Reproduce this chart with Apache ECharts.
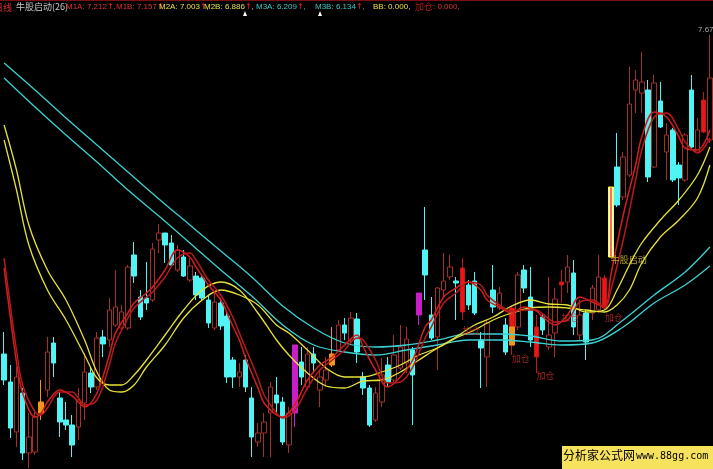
<!DOCTYPE html>
<html><head><meta charset="utf-8">
<script src="https://cdn.jsdelivr.net/npm/echarts/dist/echarts.min.js"></script>
<style>html,body{margin:0;padding:0;background:#000;}#c{width:713px;height:469px;}</style>
</head><body><div id="c"></div>
<script>
// ---- candle data (price) ----
const openP=[4.48,4.20,3.70,4.09,3.49,3.50,3.89,4.12,4.59,4.04,
3.82,3.77,3.75,3.99,4.29,4.15,4.65,4.62,4.77,4.74,
4.74,5.47,5.05,5.04,5.02,5.62,5.69,5.59,5.32,5.45,
5.22,5.26,5.24,5.02,4.74,4.99,4.86,4.42,4.25,4.42,
4.04,3.60,3.69,3.89,4.07,4.00,3.57,3.89,4.40,4.15,
4.48,4.12,4.22,4.37,4.52,4.77,4.62,4.83,4.25,4.14,
3.82,4.00,4.37,4.22,4.34,4.39,4.52,4.87,5.52,4.87,
4.65,5.12,5.25,5.21,4.90,5.17,5.21,4.62,4.45,5.12,
4.94,4.77,4.57,4.75,5.32,5.05,4.45,4.85,4.55,4.69,
5.17,5.20,5.29,4.67,4.89,4.89,4.92,4.94,5.45,6.35,
6.05,6.27,7.12,7.09,7.12,6.35,7.01,6.50,6.72,6.37,
6.22,7.12,6.50,6.70,6.62];
const closeP=[4.22,3.74,4.25,3.49,3.65,3.85,4.00,4.50,4.39,3.80,
3.77,3.57,4.02,4.30,4.15,4.64,4.58,4.92,4.95,4.90,
5.35,5.26,4.85,4.99,5.53,5.69,5.57,5.37,5.52,5.26,
5.36,5.07,5.04,4.79,5.00,4.76,4.25,4.25,4.30,4.15,
3.65,3.69,3.80,4.15,3.99,3.60,3.89,4.57,4.25,4.48,
4.39,4.25,4.32,4.48,4.77,4.69,4.84,4.50,4.14,3.77,
4.09,4.27,4.20,4.47,4.55,4.63,4.27,5.09,5.27,4.64,
5.14,5.21,5.35,5.19,5.34,4.97,4.89,4.54,4.79,4.95,
5.09,4.50,4.94,5.27,5.14,4.62,4.75,4.72,4.67,5.03,
5.20,5.35,4.75,4.87,4.60,5.14,5.25,5.24,6.15,5.97,
6.45,6.98,7.22,7.20,6.25,7.19,6.75,6.67,6.22,6.24,
6.67,6.55,6.72,7.02,7.24];
const lowP=[4.17,3.64,3.55,3.42,3.34,3.47,3.82,4.05,4.25,3.65,
3.72,3.45,3.62,3.82,4.09,4.12,4.45,4.55,4.75,4.72,
4.72,5.19,4.82,4.92,5.00,5.49,5.39,5.35,5.30,5.25,
5.20,5.02,5.02,4.74,4.72,4.72,4.19,4.14,4.15,4.10,
3.45,3.55,3.45,3.45,3.89,3.57,3.49,3.75,4.17,4.12,
4.29,3.95,4.15,4.35,4.50,4.62,4.59,4.39,4.07,3.75,
3.80,3.95,4.15,4.20,4.32,4.29,3.77,4.77,5.02,4.62,
4.32,5.05,5.22,4.82,4.82,4.92,4.87,4.14,4.15,4.89,
4.92,4.47,4.47,4.72,5.09,4.55,4.29,4.67,4.52,4.45,
4.99,5.09,4.67,4.62,4.42,4.82,4.89,4.92,5.45,5.95,
6.02,6.25,6.89,6.89,6.20,6.34,6.74,6.22,6.20,5.97,
6.20,6.54,6.49,6.69,6.59];
const highP=[4.70,4.37,4.35,4.14,3.89,3.92,4.22,4.65,4.65,4.10,
4.00,3.87,4.14,4.49,4.35,4.70,4.72,5.04,5.32,4.97,
5.37,5.60,5.12,5.40,5.59,5.78,5.69,5.67,5.57,5.52,
5.44,5.30,5.27,5.07,5.10,5.04,4.90,4.45,4.39,4.47,
4.15,3.79,3.89,4.20,4.25,4.05,3.95,4.57,4.55,4.55,
4.55,4.32,4.45,4.75,4.82,4.84,4.90,4.89,4.30,4.17,
4.15,4.44,4.45,4.67,4.77,4.75,4.55,5.09,5.95,5.05,
5.15,5.49,5.47,5.25,5.44,5.22,5.30,4.70,4.82,5.37,
5.15,4.84,4.97,5.30,5.37,5.35,4.87,4.89,5.25,5.14,
5.32,5.47,5.42,5.02,4.92,5.17,5.47,5.27,6.15,6.69,
6.50,7.35,7.32,7.50,7.22,7.27,7.20,6.79,6.74,6.40,
6.69,7.27,6.84,7.10,7.67];
// specially coloured candles
const specialIdx=[6,47,53,67,74,82,86,90,97,98,113];
const specialKind=['orange','magenta','orange','magenta','red','red','red','red','red','start','red'];
// orange lower part drawn over candle 82
const overlayIdx=[82], overlayOpen=[4.57], overlayClose=[4.75];

// ---- moving averages ----
const m1Idx=[0,2,3,5,6,7,9,11,12,13,15,17,18,20,21,23,24,26,28,30,31,33,35,37,38,39,41,42,44,45,47,49,51,53,55,57,58,60,62,64,66,68,69,71,73,75,77,78,80,82,84,86,87,89,91,93,95,97,98,100,102,103,105,107,109,110,112,114];
const m1a=[5.34,4.40,4.09,3.85,3.89,4.00,4.12,4.06,4.00,3.95,4.09,4.47,4.69,4.89,4.99,5.09,5.15,5.32,5.52,5.45,5.35,5.17,5.02,4.75,4.62,4.44,4.14,3.99,3.87,3.85,3.98,4.22,4.37,4.45,4.57,4.67,4.55,4.32,4.15,4.25,4.42,4.75,4.82,5.05,5.14,5.20,5.12,5.02,4.95,4.89,4.95,4.91,4.85,4.77,4.87,5.05,5.00,4.95,5.27,5.87,6.37,6.65,6.90,6.85,6.65,6.54,6.52,6.72];
const m1b=[5.44,4.52,4.17,3.90,3.87,3.94,4.10,4.10,4.04,3.97,4.02,4.37,4.59,4.84,4.94,5.05,5.10,5.25,5.44,5.49,5.42,5.22,5.07,4.84,4.69,4.54,4.24,4.07,3.89,3.84,3.92,4.14,4.32,4.42,4.52,4.64,4.62,4.42,4.19,4.20,4.35,4.64,4.75,4.99,5.09,5.20,5.17,5.07,4.97,4.91,4.92,4.92,4.88,4.80,4.82,5.00,5.02,4.95,5.12,5.62,6.22,6.52,6.85,6.89,6.72,6.60,6.49,6.64];
const m2Idx=[0,2,4,7,10,13,15,17,19,21,23,26,29,32,35,38,41,44,46,49,52,55,58,61,64,67,70,73,76,79,82,85,88,91,94,97,99,101,103,106,109,112,114];
const m2a=[6.62,6.12,5.57,5.12,4.82,4.47,4.24,4.17,4.17,4.27,4.42,4.67,4.92,5.12,5.20,5.12,4.89,4.62,4.47,4.29,4.16,4.14,4.21,4.22,4.30,4.42,4.54,4.65,4.77,4.85,4.96,5.02,4.98,4.97,4.90,4.92,5.12,5.37,5.59,5.82,6.02,6.27,6.55];
const m2b=[6.77,6.32,5.77,5.32,5.02,4.62,4.30,4.12,4.10,4.17,4.35,4.57,4.84,5.02,5.12,5.07,4.97,4.77,4.69,4.52,4.34,4.25,4.25,4.30,4.37,4.47,4.54,4.64,4.72,4.82,4.89,4.94,4.95,4.94,4.92,4.90,4.97,5.12,5.39,5.65,5.82,6.04,6.37];
const m3Idx=[0,5,10,15,20,25,30,35,40,45,50,55,60,65,70,75,80,85,90,95,100,105,110,114];
const m3a=[7.39,7.12,6.84,6.57,6.30,6.03,5.77,5.51,5.25,4.96,4.74,4.59,4.55,4.57,4.62,4.68,4.68,4.66,4.61,4.62,4.82,5.07,5.30,5.55];
const m3b=[7.24,6.95,6.67,6.40,6.12,5.86,5.59,5.32,5.06,4.77,4.57,4.50,4.47,4.52,4.57,4.62,4.62,4.60,4.57,4.59,4.75,4.99,5.17,5.36];

// ---- signal labels ----
const addIdx=[74,82,86,90,97], addLevel=[4.71,4.43,4.26,4.84,4.84];
const startIdx=[98], startLevel=[5.42];

// ---- header ----
const headerItems=[
 ['M1A','7.212','r',66],['M1B','7.157','r',116],['M2A','7.003','y',159],['M2B','6.886','y',204],
 ['M3A','6.209','c',256],['M3B','6.134','c',315]];

const cats=openP.map((_,i)=>String(i+1));
const UP='#a3302a', DOWN='#50f4f4';
const styles={
 orange:{color:'#f2971c',color0:'#f2971c',borderColor:'#f2971c',borderColor0:'#f2971c'},
 magenta:{color:'#c81ec8',color0:'#c81ec8',borderColor:'#c81ec8',borderColor0:'#c81ec8'},
 red:{color:'#f01414',color0:'#f01414',borderColor:'#c01818',borderColor0:'#c01818'},
 start:{color:{type:'linear',x:0,y:0,x2:1,y2:0,colorStops:[{offset:0,color:'#ffff30'},{offset:0.25,color:'#ffffff'},{offset:0.5,color:'#ff2020'},{offset:0.75,color:'#ffffff'},{offset:1,color:'#ffff30'}]},borderColor:'#ffff20',borderColor0:'#ffff20'}
};
const candleData=openP.map((o,i)=>{
  const v=[o,closeP[i],lowP[i],highP[i]];
  const k=specialIdx.indexOf(i);
  return k>=0?{value:v,itemStyle:styles[specialKind[k]]}:v;
});
const overlayData=openP.map((o,i)=>{
  const k=overlayIdx.indexOf(i);
  return k>=0?[overlayOpen[k],overlayClose[k],overlayOpen[k],overlayClose[k]]:'-';
});
function ma(name,idx,vals,color,w){
  return {name,type:'line',data:idx.map((d,j)=>[d,vals[j]]),smooth:0.35,symbol:'none',
    lineStyle:{color,width:w},z:4,silent:true,animation:false};
}
const chart=echarts.init(document.getElementById('c'));
const colorMap={r:'#e03434',y:'#e8e040',c:'#3cc8c8'};
const graphics=[
 {type:'line',shape:{x1:0,y1:0.5,x2:713,y2:0.5},style:{stroke:'#7a1010',lineWidth:1}},
 {type:'text',left:-6,top:3,style:{text:'日线',fill:'#e03030',font:'9px "Noto Sans CJK SC"'}},
 {type:'text',left:16,top:2,style:{text:'牛股启动(26)',fill:'#c8c8c8',font:'9px "Noto Sans CJK SC"'}},
 {type:'text',left:373,top:3,style:{text:'BB: 0.000,',fill:'#e8e040',font:'8px "Liberation Sans"'}},
 {type:'text',left:415,top:2,style:{text:'{a|加仓}{b|: 0.000,}',rich:{a:{fill:'#b01818',font:'9px "Noto Sans CJK SC"'},b:{fill:'#e03434',font:'8px "Liberation Sans"'}}}},
 {type:'polygon',shape:{points:[[243,16],[245,11],[247,16]]},style:{fill:'#ffffff'}},
 {type:'polygon',shape:{points:[[318,16],[320,11],[322,16]]},style:{fill:'#ffffff'}},
 {type:'text',left:698,top:26,style:{text:'7.67',fill:'#a8a8a8',font:'8px "Liberation Sans"'}},
 {type:'rect',shape:{x:562,y:446,width:151,height:23},style:{fill:'#f7e25e'}},
 {type:'text',left:563,top:449,style:{text:'分析家公式网',fill:'#000',font:'12px "Noto Sans CJK SC"'}},
 {type:'text',left:636,top:451,style:{text:'www.88gg.com',fill:'#000',font:'10px "DejaVu Sans Mono"'}}
];
headerItems.forEach(h=>{
  graphics.push({type:'text',left:h[3],top:3,style:{text:'{a|'+h[0]+': '+h[1]+'}{b|↑}{a|,}',
    rich:{a:{fill:colorMap[h[2]],font:'8px "Liberation Sans"'},b:{fill:'#ff2020',font:'8px "DejaVu Sans"'}}}});
});
chart.setOption({
  backgroundColor:'#000',
  animation:false,
  grid:{left:1,top:0,width:713,height:469},
  xAxis:{type:'category',data:cats,boundaryGap:true,show:false},
  yAxis:{type:'value',min:3.33,max:8.02,show:false,scale:true},
  series:[
    {name:'K',type:'candlestick',data:candleData,barWidth:5,z:2,
     itemStyle:{color:'#000',color0:DOWN,borderColor:UP,borderColor0:DOWN,borderWidth:1}},
    {name:'overlay',type:'candlestick',data:overlayData,barWidth:5,z:3,
     itemStyle:{color:'#f2971c',color0:'#f2971c',borderColor:'#f2971c',borderColor0:'#f2971c'}},
    ma('M3A',m3Idx,m3a,'#3cd2d2',1.3),
    ma('M3B',m3Idx,m3b,'#3cd2d2',1.3),
    ma('M2A',m2Idx,m2a,'#e6e23a',1.3),
    ma('M2B',m2Idx,m2b,'#e6e23a',1.3),
    ma('M1A',m1Idx,m1a,'#d41e1e',1.5),
    ma('M1B',m1Idx,m1b,'#b81a1a',1.5),
    {name:'加仓',type:'scatter',symbolSize:0,z:5,data:addIdx.map((d,j)=>[d,addLevel[j]]),
     label:{show:true,formatter:'加仓',position:'right',distance:0,color:'#c42c2c',fontSize:9,fontFamily:'Noto Sans CJK SC'}},
    {name:'牛股启动',type:'scatter',symbolSize:0,z:5,data:startIdx.map((d,j)=>[d,startLevel[j]]),
     label:{show:true,formatter:'牛股启动',position:'right',distance:0,color:'#ddcc3c',fontSize:9,fontFamily:'Noto Sans CJK SC'}}
  ],
  graphic:graphics
});
</script></body></html>
